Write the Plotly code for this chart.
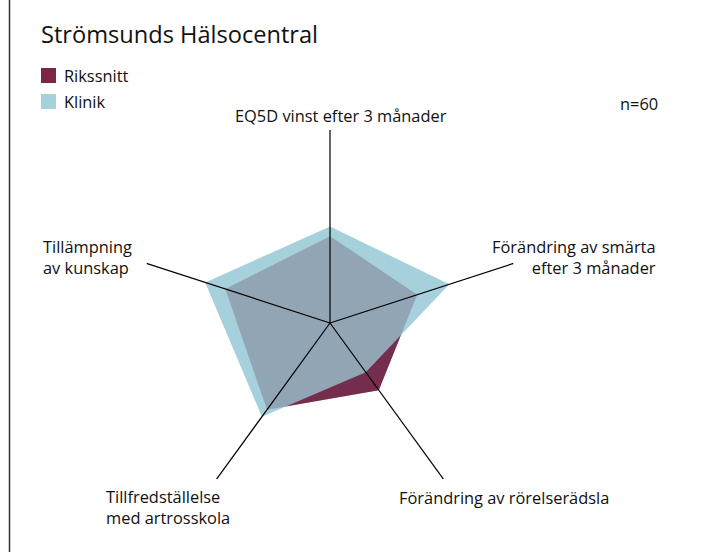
import plotly.graph_objects as go

# Axes (clockwise from top)
categories = [
    "EQ5D vinst efter 3 månader",
    "Förändring av smärta efter 3 månader",
    "Förändring av rörelserädsla",
    "Tillfredställelse med artrosskola",
    "Tillämpning av kunskap",
]
rikssnitt = [45, 47.5, 43, 55.5, 57]
klinik = [50, 65, 31.5, 60, 68]
r_max = 100

title_text = "Strömsunds Hälsocentral"
n_text = "n=60"

W, H = 712, 552
RED = "#7d2447"
BLUE = "#a6d0dc"
FONT = "Open Sans"


def px(x):
    return x / W


def py(y):
    return 1 - y / H


def closed(vals):
    return list(vals) + [vals[0]]


theta_closed = closed(categories)

fig = go.Figure()

# Rikssnitt underneath
fig.add_trace(go.Scatterpolar(
    r=closed(rikssnitt), theta=theta_closed, mode="none",
    fill="toself", fillcolor=RED, name="Rikssnitt", showlegend=False,
))
# Klinik on top
fig.add_trace(go.Scatterpolar(
    r=closed(klinik), theta=theta_closed, mode="none",
    fill="toself", fillcolor=BLUE, name="Klinik", showlegend=False,
))
# tint the overlap
fig.add_trace(go.Scatterpolar(
    r=closed(rikssnitt), theta=theta_closed, mode="none",
    fill="toself", fillcolor="rgba(96,65,90,0.3)", showlegend=False,
    hoverinfo="skip",
))

# spokes drawn over the fills
spoke_r, spoke_t = [], []
for c in categories:
    spoke_r += [0, r_max, None]
    spoke_t += [c, c, None]
fig.add_trace(go.Scatterpolar(
    r=spoke_r, theta=spoke_t, mode="lines",
    line=dict(color="black", width=1.2), showlegend=False, hoverinfo="skip",
))

# polar area: centre (330, 323), radius 193 px
cx, cy, rad = 330, 323, 193
fig.update_layout(
    width=W, height=H,
    margin=dict(l=0, r=0, t=0, b=0),
    paper_bgcolor="white",
    font=dict(family=FONT, color="#111111", size=16.4),
    polar=dict(
        domain=dict(x=[px(cx - rad), px(cx + rad)], y=[py(cy + rad), py(cy - rad)]),
        bgcolor="rgba(0,0,0,0)",
        radialaxis=dict(visible=False, range=[0, r_max]),
        angularaxis=dict(
            direction="clockwise", rotation=90,
            showgrid=False, showline=False, showticklabels=False, ticks="",
        ),
    ),
)

annotations = [
    dict(text=title_text, x=px(39), y=py(34), xanchor="left", yanchor="middle", font=dict(size=23.6)),
    dict(text="Rikssnitt", x=px(62), y=py(76), xanchor="left", yanchor="middle"),
    dict(text="Klinik", x=px(62), y=py(102), xanchor="left", yanchor="middle"),
    dict(text=n_text, x=px(660), y=py(104), xanchor="right", yanchor="middle"),
    dict(text="EQ5D vinst efter 3 månader", x=px(341), y=py(115), xanchor="center", yanchor="middle"),
    dict(text="Förändring av smärta<br>efter 3 månader", x=px(658), y=py(257), xanchor="right",
         yanchor="middle", align="right"),
    dict(text="Tillämpning<br>av kunskap", x=px(41), y=py(257), xanchor="left",
         yanchor="middle", align="left"),
    dict(text="Tillfredställelse<br>med artrosskola", x=px(104), y=py(507), xanchor="left",
         yanchor="middle", align="left"),
    dict(text="Förändring av rörelserädsla", x=px(397), y=py(497), xanchor="left", yanchor="middle"),
]
for a in annotations:
    a.update(xref="paper", yref="paper", showarrow=False)
fig.update_layout(annotations=annotations)

# legend squares and left border line
fig.update_layout(shapes=[
    dict(type="rect", xref="paper", yref="paper", x0=px(41), x1=px(56), y0=py(83), y1=py(68),
         fillcolor=RED, line=dict(width=0)),
    dict(type="rect", xref="paper", yref="paper", x0=px(41), x1=px(56), y0=py(109), y1=py(94),
         fillcolor=BLUE, line=dict(width=0)),
    dict(type="line", xref="paper", yref="paper", x0=px(9.5), x1=px(9.5), y0=0, y1=1,
         line=dict(color="#333333", width=1.5)),
])

# the page has a default body margin; remove it so the figure sits at (0, 0)
fig.write_html("out.html", config={"displayModeBar": False},
               post_script="document.body.style.margin='0px';")
